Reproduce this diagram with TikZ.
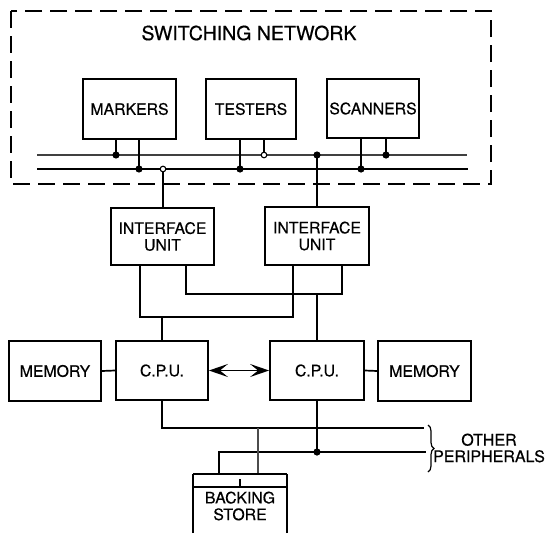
\documentclass[tikz,border=0pt]{standalone}
\usepackage{fontspec}
\setmainfont{TeX Gyre Heros}[FakeBold=0.5]
\usetikzlibrary{arrows.meta,decorations.pathreplacing}

\tikzset{
  unit/.style={draw, line width=1.8pt, inner sep=0pt, align=center,
    font=\fontsize{15.8}{16.7}\selectfont},
  wire/.style={line width=1.7pt},
  thinwire/.style={line width=1.2pt},
  bus/.style={line width=1.3pt, black!75},
  mainbus/.style={line width=1.8pt},
  joint/.style={fill=black},
  openjoint/.style={draw=black, fill=white, line width=1.1pt},
  netframe/.style={line width=1.8pt, dash pattern=on 17pt off 8pt},
  twoway/.style={line width=1.7pt,
    arrows={Stealth[length=19pt,width=13pt,inset=8pt]-Stealth[length=19pt,width=13pt,inset=8pt]}},
}

\begin{document}
\begin{tikzpicture}[x=1pt, y=-1pt]
\useasboundingbox (0,0) rectangle (549,533);

% switching network frame
\draw[netframe] (11,11) rectangle (491,184);
\node[font=\fontsize{19.5}{22}\selectfont] (title) at (249,33) {SWITCHING NETWORK};

% units inside the network
\node[unit, minimum width=93pt, minimum height=60pt] (markers) at (129.5,109) {MARKERS};
\node[unit, minimum width=90pt, minimum height=60pt] (testers) at (251,109) {TESTERS};
\node[unit, minimum width=92pt, minimum height=59pt] (scanners) at (373,108.5) {SCANNERS};

% the two buses
\coordinate (busAL) at (37,155);  \coordinate (busAR) at (467,155);
\coordinate (busBL) at (37,169);  \coordinate (busBR) at (468,169);
\draw[bus] (busAL) -- (busAR);
\draw[mainbus] (busBL) -- (busBR);

% taps on the buses
\coordinate (m1) at (116,155); \coordinate (m2) at (139,169);
\coordinate (t1) at (240,169); \coordinate (t2) at (264,155);
\coordinate (s1) at (361,169); \coordinate (s2) at (386,155);
\coordinate (ia) at (163,169); \coordinate (ib) at (317,155);
\draw[wire] (m1 |- markers.south) -- (m1);
\draw[wire] (m2 |- markers.south) -- (m2);
\draw[wire] (t1 |- testers.south) -- (t1);
\draw[wire] (t2 |- testers.south) -- (t2);
\draw[wire] (s1 |- scanners.south) -- (s1);
\draw[wire] (s2 |- scanners.south) -- (s2);

% interface units
\node[unit, minimum width=103pt, minimum height=57pt] (iu1) at (162.5,236.5) {INTERFACE\\UNIT};
\node[unit, minimum width=104pt, minimum height=58pt] (iu2) at (317,236) {INTERFACE\\UNIT};
\draw[thinwire] (ia) -- (ia |- iu1.north);
\draw[wire] (ib) -- (ib |- iu2.north);

\fill[joint] (m1) circle (3.6pt);
\fill[joint] (m2) circle (3.6pt);
\fill[joint] (t1) circle (3.6pt);
\draw[openjoint] (t2) circle (2.8pt);
\fill[joint] (s1) circle (3.6pt);
\fill[joint] (s2) circle (3.6pt);
\draw[openjoint] (ia) circle (2.8pt);
\fill[joint] (ib) circle (3.6pt);

% processors and memories
\node[unit, minimum width=92pt, minimum height=60pt] (mem1) at (55,371) {MEMORY};
\node[unit, minimum width=92pt, minimum height=59pt] (cpu1) at (162,370.5) {C.P.U.};
\node[unit, minimum width=94pt, minimum height=59pt] (cpu2) at (317,370.5) {C.P.U.};
\node[unit, minimum width=93pt, minimum height=60pt] (mem2) at (424.5,371) {MEMORY};
\draw[wire] (mem1.east) -- (cpu1.west);
\draw[wire] (cpu2.east) -- (mem2.west);
\draw[twoway] (cpu1.east) -- (cpu2.west);

% cross connections between interface units and processors
\coordinate (j1) at (140,317); \coordinate (j2) at (293,317);
\coordinate (k1) at (186,294); \coordinate (k2) at (342,294);
\draw[wire] (j1 |- iu1.south) -- (j1) -- (j2) -- (j2 |- iu2.south);
\draw[wire] (k1 |- iu1.south) -- (k1) -- (k2) -- (k2 |- iu2.south);
\draw[thinwire] (cpu1.north |- j1) -- (cpu1.north);
\draw[wire] (cpu2.north |- k1) -- (cpu2.north);

% peripheral lines
\coordinate (pA) at (424,428);
\coordinate (pB) at (426,452);
\coordinate (b1) at (219,452);
\coordinate (b2) at (258,428);
\coordinate (bt) at (240,474);
\draw[wire] (cpu1.south) |- (pA);
\draw[wire] (b1 |- bt) -- (b1) -- (pB);
\draw[wire] (cpu2.south) -- (cpu2.south |- pB);
\fill[joint] (cpu2.south |- pB) circle (3.6pt);
\draw[thinwire, black!70] (b2) -- (b2 |- bt);

% backing store, open at the bottom
\node[font=\fontsize{15.8}{16.7}\selectfont, align=center] (store) at (240,506) {BACKING\\STORE};
\coordinate (stl) at (193,474); \coordinate (str) at (287,474);
\coordinate (sbl) at (193,533); \coordinate (sbr) at (287,533);
\draw[wire] (stl) -- (str);
\draw[wire] (sbl) -- (stl);
\draw[wire] (sbr) -- (str);
\draw[thinwire] (193,487) -- (287,487);
\draw[thinwire] (240,479) -- (240,487);

% other peripherals
\draw[line width=1.2pt, decorate, decoration={brace, amplitude=6pt}] (428,425) -- (428,472);
\node[font=\fontsize{16}{16.5}\selectfont, align=center] (periph) at (489,448) {OTHER\\PERIPHERALS};
\end{tikzpicture}
\end{document}
